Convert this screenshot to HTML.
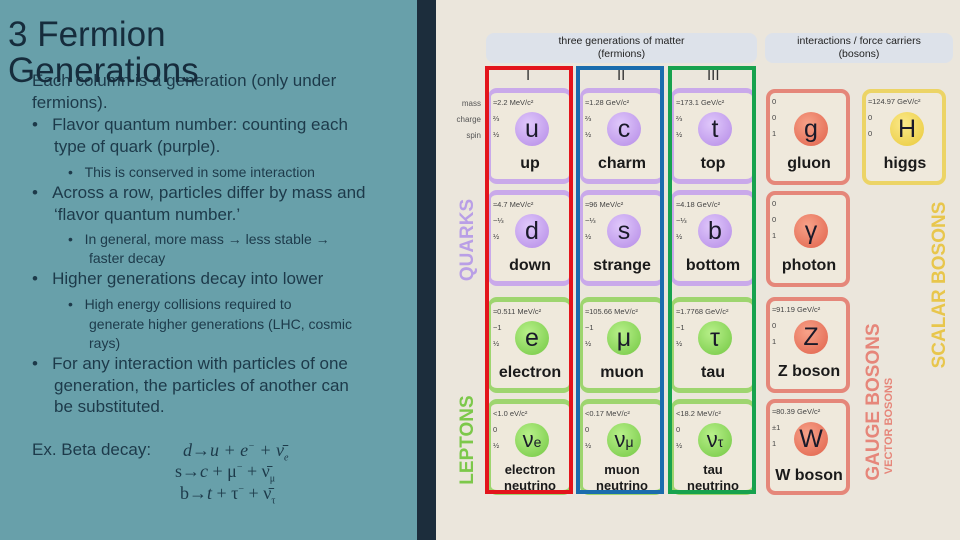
<!DOCTYPE html>
<html><head><meta charset="utf-8"><style>
*{margin:0;padding:0;box-sizing:border-box}
body{width:960px;height:540px;overflow:hidden;position:relative;font-family:"Liberation Sans",sans-serif;background:#ebe6dc}
.a{position:absolute}
#left{left:0;top:0;width:417px;height:540px;background:#68a0aa;color:#1d3848}
#strip{left:417px;top:0;width:19px;height:540px;background:#1c2d3c}
.t{position:absolute;white-space:nowrap;font-size:17px;color:#1d3a4a}
.card{position:absolute;width:84px;height:96px;border:3px solid;border-radius:9px;background:#efe9dc}
.q{border-color:#c9a9ea;border-top-width:5px;border-bottom-width:5px}
.l{border-color:#9ed56f;border-top-width:5px;border-bottom-width:5px}
.gb{border-color:#e5877a;border-width:4px}
.h{border-color:#ecd466;border-width:4px}
.circ{position:absolute;left:24px;top:19px;width:34px;height:34px;border-radius:50%;text-align:center;line-height:34px;font-size:25px;color:#1a1a2a}
.q .circ{background:radial-gradient(circle at 40% 35%,#e0c8fb,#b48ae6)}
.l .circ{background:radial-gradient(circle at 40% 35%,#b8f08a,#72c742)}
.gb .circ{background:radial-gradient(circle at 40% 35%,#f7a289,#e0614a)}
.h .circ{background:radial-gradient(circle at 40% 35%,#fbe98a,#e9c93a)}
.nm{position:absolute;left:0;width:78px;top:62px;text-align:center;font-size:16px;font-weight:bold;color:#1a1a1a}
.nm2{top:58px;font-size:13px;line-height:16px}
.sm{position:absolute;left:2px;font-size:7.5px;color:#444;white-space:nowrap}
.gen{position:absolute;border:4px solid;top:66px;height:428px;width:88px}
.rot{position:absolute;white-space:nowrap;font-weight:bold;transform:translate(-50%,-50%) rotate(-90deg)}
.hd{position:absolute;top:33px;height:30px;background:#dde2ea;border-radius:8px;text-align:center;font-size:10.5px;line-height:13px;padding-top:2px;color:#222}
</style></head><body>
<div id="left" class="a">
<div class="t" style="left:8px;top:16px;font-size:35px;color:#162c3c;line-height:38px">3 Fermion</div>
<div class="t" style="left:32px;top:71px;color:#1d3a4a">Each column is a generation (only under</div>
<div class="t" style="left:8px;top:52px;font-size:35px;color:#162c3c;line-height:38px">Generations</div>
<div class="t" style="left:32px;top:93px">fermions).</div>
<div class="t" style="left:32px;top:115px">•&nbsp;&nbsp;&nbsp;Flavor quantum number: counting each</div>
<div class="t" style="left:54px;top:137px">type of quark (purple).</div>
<div class="t" style="left:68px;top:164px;font-size:14px">•&nbsp;&nbsp;&nbsp;This is conserved in some interaction</div>
<div class="t" style="left:32px;top:183px">•&nbsp;&nbsp;&nbsp;Across a row, particles differ by mass and</div>
<div class="t" style="left:54px;top:205px">‘flavor quantum number.’</div>
<div class="t" style="left:68px;top:231px;font-size:14px">•&nbsp;&nbsp;&nbsp;In general, more mass → less stable →</div>
<div class="t" style="left:89px;top:250px;font-size:14px">faster decay</div>
<div class="t" style="left:32px;top:269px">•&nbsp;&nbsp;&nbsp;Higher generations decay into lower</div>
<div class="t" style="left:68px;top:296px;font-size:14px">•&nbsp;&nbsp;&nbsp;High energy collisions required to</div>
<div class="t" style="left:89px;top:316px;font-size:14px">generate higher generations (LHC, cosmic</div>
<div class="t" style="left:89px;top:335px;font-size:14px">rays)</div>
<div class="t" style="left:32px;top:354px">•&nbsp;&nbsp;&nbsp;For any interaction with particles of one</div>
<div class="t" style="left:54px;top:376px">generation, the particles of another can</div>
<div class="t" style="left:54px;top:397px">be substituted.</div>
<div class="t" style="left:32px;top:440px">Ex. Beta decay:</div>
<div class="t" style="left:183px;top:440px;font-family:'Liberation Serif',serif;font-size:18px;font-style:italic">d→u + e<sup style="font-size:10px">−</sup> + ν̄<sub style="font-size:10px">e</sub></div>
<div class="t" style="left:175px;top:461px;font-family:'Liberation Serif',serif;font-size:18px">s→<i>c</i> + μ<sup style="font-size:10px">−</sup> + ν̄<sub style="font-size:10px">μ</sub></div>
<div class="t" style="left:180px;top:483px;font-family:'Liberation Serif',serif;font-size:18px">b→<i>t</i> + τ<sup style="font-size:10px">−</sup> + ν̄<sub style="font-size:10px">τ</sub></div>
</div>
<div id="strip" class="a"></div>

<div class="hd" style="left:486px;width:271px">three generations of matter<br>(fermions)</div>
<div class="hd" style="left:765px;width:188px">interactions / force carriers<br>(bosons)</div>

<div class="a" style="left:449px;top:96px;font-size:8px;color:#555;text-align:right;width:32px;line-height:16px">mass<br>charge<br>spin</div>

<div class="a" style="left:526px;top:67px;font-size:15px;color:#333">I</div>
<div class="a" style="left:617px;top:67px;font-size:15px;color:#333">II</div>
<div class="a" style="left:707px;top:67px;font-size:15px;color:#333">III</div>

<!-- quarks -->
<div class="card q" style="left:488px;top:88px"><div class="sm" style="top:5px">≈2.2 MeV/c²</div><div class="sm" style="top:21px">⅔</div><div class="sm" style="top:37px">½</div><div class="circ">u</div><div class="nm">up</div></div>
<div class="card q" style="left:580px;top:88px"><div class="sm" style="top:5px">≈1.28 GeV/c²</div><div class="sm" style="top:21px">⅔</div><div class="sm" style="top:37px">½</div><div class="circ">c</div><div class="nm">charm</div></div>
<div class="card q" style="left:671px;top:88px"><div class="sm" style="top:5px">≈173.1 GeV/c²</div><div class="sm" style="top:21px">⅔</div><div class="sm" style="top:37px">½</div><div class="circ">t</div><div class="nm">top</div></div>
<div class="card q" style="left:488px;top:190px"><div class="sm" style="top:5px">≈4.7 MeV/c²</div><div class="sm" style="top:21px">−⅓</div><div class="sm" style="top:37px">½</div><div class="circ">d</div><div class="nm">down</div></div>
<div class="card q" style="left:580px;top:190px"><div class="sm" style="top:5px">≈96 MeV/c²</div><div class="sm" style="top:21px">−⅓</div><div class="sm" style="top:37px">½</div><div class="circ">s</div><div class="nm">strange</div></div>
<div class="card q" style="left:671px;top:190px"><div class="sm" style="top:5px">≈4.18 GeV/c²</div><div class="sm" style="top:21px">−⅓</div><div class="sm" style="top:37px">½</div><div class="circ">b</div><div class="nm">bottom</div></div>
<!-- leptons -->
<div class="card l" style="left:488px;top:297px"><div class="sm" style="top:5px">≈0.511 MeV/c²</div><div class="sm" style="top:21px">−1</div><div class="sm" style="top:37px">½</div><div class="circ">e</div><div class="nm">electron</div></div>
<div class="card l" style="left:580px;top:297px"><div class="sm" style="top:5px">≈105.66 MeV/c²</div><div class="sm" style="top:21px">−1</div><div class="sm" style="top:37px">½</div><div class="circ">μ</div><div class="nm">muon</div></div>
<div class="card l" style="left:671px;top:297px"><div class="sm" style="top:5px">≈1.7768 GeV/c²</div><div class="sm" style="top:21px">−1</div><div class="sm" style="top:37px">½</div><div class="circ">τ</div><div class="nm">tau</div></div>
<div class="card l" style="left:488px;top:399px"><div class="sm" style="top:5px">&lt;1.0 eV/c²</div><div class="sm" style="top:21px">0</div><div class="sm" style="top:37px">½</div><div class="circ" style="font-size:22px">ν<span style="font-size:14px">e</span></div><div class="nm nm2">electron<br>neutrino</div></div>
<div class="card l" style="left:580px;top:399px"><div class="sm" style="top:5px">&lt;0.17 MeV/c²</div><div class="sm" style="top:21px">0</div><div class="sm" style="top:37px">½</div><div class="circ" style="font-size:22px">ν<span style="font-size:14px">μ</span></div><div class="nm nm2">muon<br>neutrino</div></div>
<div class="card l" style="left:671px;top:399px"><div class="sm" style="top:5px">&lt;18.2 MeV/c²</div><div class="sm" style="top:21px">0</div><div class="sm" style="top:37px">½</div><div class="circ" style="font-size:22px">ν<span style="font-size:14px">τ</span></div><div class="nm nm2">tau<br>neutrino</div></div>
<!-- bosons -->
<div class="card gb" style="left:766px;top:89px"><div class="sm" style="top:4px">0</div><div class="sm" style="top:20px">0</div><div class="sm" style="top:36px">1</div><div class="circ">g</div><div class="nm">gluon</div></div>
<div class="card gb" style="left:766px;top:191px"><div class="sm" style="top:4px">0</div><div class="sm" style="top:20px">0</div><div class="sm" style="top:36px">1</div><div class="circ">γ</div><div class="nm">photon</div></div>
<div class="card gb" style="left:766px;top:297px"><div class="sm" style="top:4px">≈91.19 GeV/c²</div><div class="sm" style="top:20px">0</div><div class="sm" style="top:36px">1</div><div class="circ">Z</div><div class="nm">Z boson</div></div>
<div class="card gb" style="left:766px;top:399px"><div class="sm" style="top:4px">≈80.39 GeV/c²</div><div class="sm" style="top:20px">±1</div><div class="sm" style="top:36px">1</div><div class="circ">W</div><div class="nm" style="top:64px">W boson</div></div>
<div class="card h" style="left:862px;top:89px"><div class="sm" style="top:4px">≈124.97 GeV/c²</div><div class="sm" style="top:20px">0</div><div class="sm" style="top:36px">0</div><div class="circ">H</div><div class="nm">higgs</div></div>

<!-- generation boxes -->
<div class="gen" style="left:485px;border-color:#e3141b"></div>
<div class="gen" style="left:576px;border-color:#1a6cad"></div>
<div class="gen" style="left:668px;border-color:#17a24e"></div>

<div class="rot" style="left:468px;top:240px;font-size:19px;color:#b99fe6">QUARKS</div>
<div class="rot" style="left:468px;top:440px;font-size:19px;color:#7cc84a">LEPTONS</div>
<div class="rot" style="left:874px;top:402px;font-size:19px;color:#e6867a">GAUGE BOSONS</div>
<div class="rot" style="left:889px;top:426px;font-size:11px;color:#e6867a">VECTOR BOSONS</div>
<div class="rot" style="left:940px;top:285px;font-size:19px;color:#e8c64c">SCALAR BOSONS</div>
</body></html>
